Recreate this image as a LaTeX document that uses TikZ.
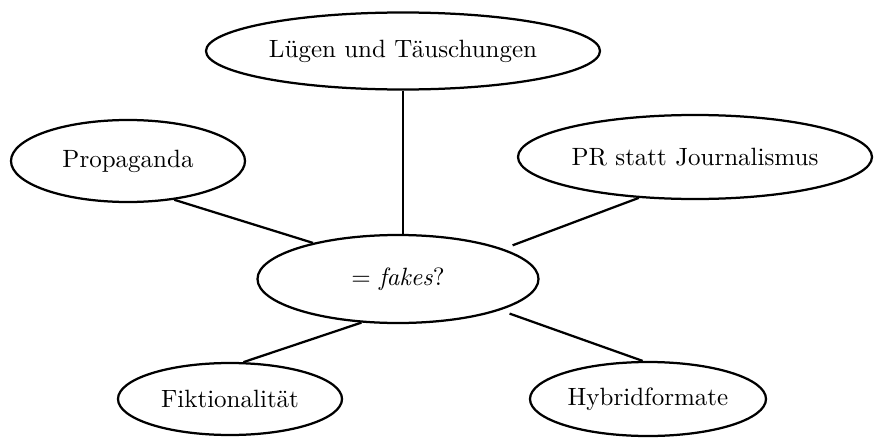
\documentclass[tikz,border=0pt]{standalone}
\usetikzlibrary{shapes.geometric}
\tikzset{topic/.style={ellipse, draw, line width=0.9pt, inner sep=0pt, font=\normalsize}}
\tikzset{link/.style={line width=0.9pt}}
\begin{document}
\begin{tikzpicture}[x=0.4pt, y=-0.4pt]
        \useasboundingbox (0,0) rectangle (874,440);
        \node[topic, minimum width=157.6pt, minimum height=30.8pt] (luegen) at (403,51) {Lügen und Täuschungen};
        \node[topic, minimum width=93.6pt, minimum height=32.8pt] (prop) at (128,161) {Propaganda};
        \node[topic, minimum width=141.6pt, minimum height=33.6pt] (pr) at (695,157) {PR statt Journalismus};
        \node[topic, minimum width=112.4pt, minimum height=35.2pt] (fakes) at (398,279) {= \textit{fakes}?};
        \node[topic, minimum width=89.6pt, minimum height=28.8pt] (fik) at (230,399) {Fiktionalität};
        \node[topic, minimum width=94.4pt, minimum height=29.6pt] (hyb) at (648,399) {Hybridformate};

        \draw[link] (luegen.south) -- (luegen.south |- fakes.north);
        \draw[link] (prop.-40) -- (fakes.157.6);
        \draw[link, shorten >=4pt] (pr.216) -- (fakes.16.6);
        \draw[link] (fakes.230) -- (fik.70);
        \draw[link, shorten <=4pt] (fakes.343.4) -- (hyb.98);
\end{tikzpicture}
\end{document}
